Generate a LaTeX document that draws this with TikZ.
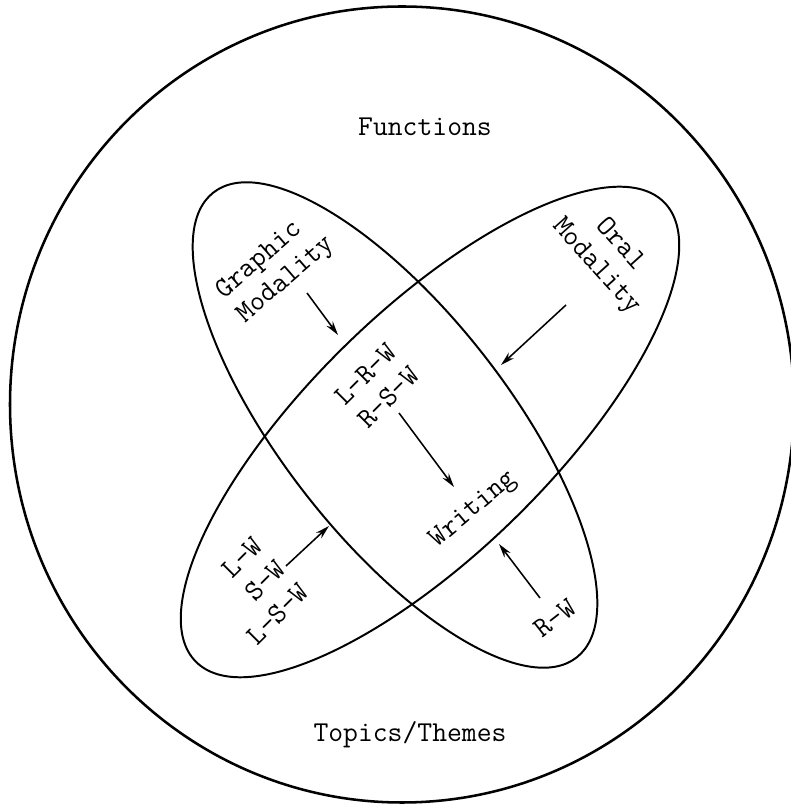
\documentclass[tikz,border=0pt]{standalone}
\usetikzlibrary{arrows.meta}
\begin{document}
\begin{tikzpicture}[x=0.025cm, y=0.025cm,
    every node/.style={font=\ttfamily\fontsize{20.5}{23}\selectfont},
    ring/.style={draw, line width=1.4pt},
    arr/.style={-{Stealth[length=10pt, width=5.5pt]}, line width=1.1pt},
  ]
  \useasboundingbox (0,0) rectangle (790,809);

  % Outer circle
  \draw[line width=1.8pt] (402,404.5) ellipse [x radius=392, y radius=398];
  \node (func) at (425,682) {Functions};
  \node (topic) at (410,74) {Topics/Themes};

  % Two crossing modalities
  \draw[ring, rotate around={-52:(395,384)}] (395,384) ellipse [x radius=295, y radius=113];
  \draw[ring, rotate around={44.4:(430,377)}] (430,377) ellipse [x radius=328, y radius=121];

  % Labels
  \node[rotate=41, align=left] (graph) at (276,541) {Graphic\\Modality};
  \node[rotate=-48, align=center] (oral) at (608,553) {Oral\\Modality};
  \node[rotate=45, align=center] (lrw) at (377,423) {L-R-W\\R-S-W};
  \node[rotate=40] (writ) at (474,299) {Writing};
  \node[rotate=45, align=right] (lw) at (255,218) {L-W\\S-W\\L-S-W};
  \node[rotate=38] (rw) at (555,191) {R-W};

  % Arrows
  \coordinate (gaS) at (307,516); \coordinate (gaE) at (338,474);
  \coordinate (oaS) at (566,504); \coordinate (oaE) at (501,444);
  \coordinate (caS) at (399,396); \coordinate (caE) at (454,322);
  \coordinate (laS) at (286,243); \coordinate (laE) at (329,283);
  \coordinate (raS) at (540,211); \coordinate (raE) at (499,265);
  \draw[arr] (gaS) -- (gaE);
  \draw[arr] (oaS) -- (oaE);
  \draw[arr] (caS) -- (caE);
  \draw[arr] (laS) -- (laE);
  \draw[arr] (raS) -- (raE);
\end{tikzpicture}
\end{document}
